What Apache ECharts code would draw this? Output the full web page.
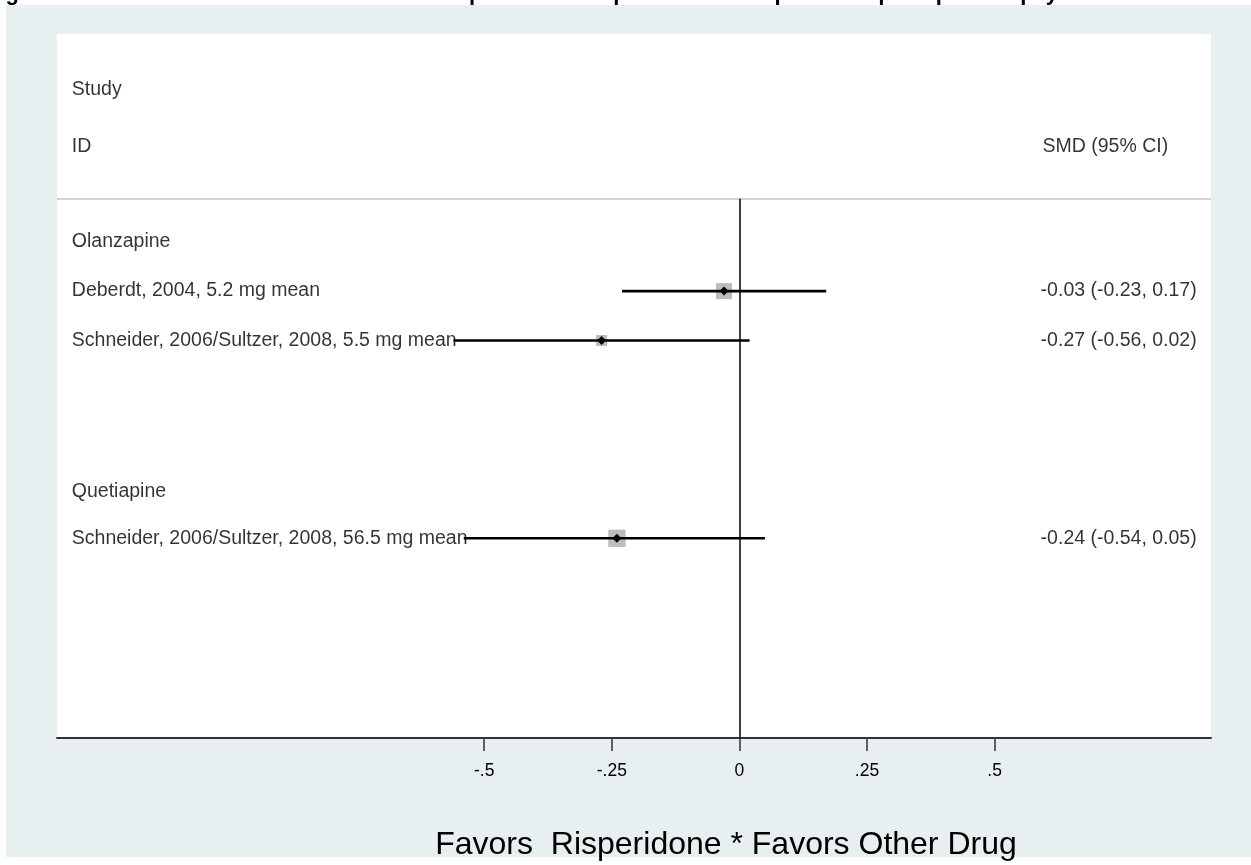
<!DOCTYPE html>
<html><head><meta charset="utf-8">
<script src="https://cdn.jsdelivr.net/npm/echarts@6/dist/echarts.min.js"></script>
<style>html,body{margin:0;padding:0;background:#fff}#c{width:1251px;height:865px}</style>
</head><body><div id="c"></div>
<script>
// ---- data ----
const studies = ["Deberdt, 2004, 5.2 mg mean", "Schneider, 2006/Sultzer, 2008, 5.5 mg mean", "Schneider, 2006/Sultzer, 2008, 56.5 mg mean"];
const studyRows = [1, 2, 6];
const smd = [-0.03, -0.27, -0.24];
const ciLow = [-0.23, -0.56, -0.54];
const ciHigh = [0.17, 0.02, 0.05];
const weights = [38, 18, 44];
const ciText = ["-0.03 (-0.23, 0.17)", "-0.27 (-0.56, 0.02)", "-0.24 (-0.54, 0.05)"];
const groups = ["Olanzapine", "Quetiapine"];
const groupRows = [0, 5.05];
const headerLeft = ["Study", "ID"];
const headerRows = [-3.07, -1.93];
const headerRight = ["SMD (95% CI)"];
const headerRightRows = [-1.93];
const separatorRow = -0.87;
const tickValues = [-0.5, -0.25, 0, 0.25, 0.5];
const tickLabels = ["-.5", "-.25", "0", ".25", ".5"];
const xTitle = "Favors  Risperidone * Favors Other Drug";
const figTitle = "Figure 14. Standardized mean difference of risperidone compared to olanzapine and quetiapine on psychosis";

// ---- layout ----
const XMIN = -1.337, XMAX = 0.924, YMIN = -4.2, YMAX = 10.04;
const LEFT_TEXT_X = -1.308, RIGHT_TEXT_X = 0.896, HDR_RIGHT_X = 0.84;
const FONT = "'Liberation Sans', Arial, sans-serif";
const TXT = '#000000';

const chart = echarts.init(document.getElementById('c'), null, {renderer: 'canvas'});

function textSeries(name, xs, ys, labels, align) {
  return {
    name, type: 'scatter', symbolSize: 0, silent: true, z: 3,
    data: labels.map((t, i) => ({value: [xs, ys[i]], label: {formatter: t}})),
    label: {
      show: true, position: align === 'left' ? 'right' : 'left', distance: 0,
      color: TXT, fontSize: 19.5, fontFamily: FONT
    }
  };
}

const option = {
  backgroundColor: '#E7EFF1',
  animation: false,
  grid: {left: 57, right: 40, top: 34, bottom: 127, show: true, backgroundColor: '#ffffff', borderWidth: 0},
  xAxis: {
    type: 'value', min: XMIN, max: XMAX,
    splitLine: {show: false},
    axisLine: {show: true, onZero: false, lineStyle: {color: '#333', width: 2}},
    axisTick: {show: true, customValues: tickValues, length: 13, lineStyle: {color: '#333', width: 1.5}},
    axisLabel: {
      show: true, customValues: tickValues, margin: 24, color: TXT, fontSize: 17.5, fontFamily: FONT,
      formatter: v => { const i = tickValues.findIndex(t => Math.abs(t - v) < 1e-9); return i >= 0 ? tickLabels[i] : ''; }
    }
  },
  yAxis: {type: 'value', min: YMIN, max: YMAX, inverse: true, show: false},
  graphic: [
    {type: 'rect', shape: {x: 0, y: 0, width: 1251, height: 5}, style: {fill: '#fff'}, z: 1},
    {type: 'rect', shape: {x: 0, y: 0, width: 6, height: 865}, style: {fill: '#fff'}, z: 1},
    {type: 'rect', shape: {x: 0, y: 857, width: 1251, height: 8}, style: {fill: '#fff'}, z: 1},
    {type: 'text', x: -14, y: 5, z: 2, style: {text: figTitle, fill: '#000', font: "bold 22px " + FONT, verticalAlign: 'bottom'}},
    {type: 'text', x: 726, y: 845, z: 2, style: {text: xTitle, fill: TXT, font: "32px " + FONT, align: 'center', verticalAlign: 'middle'}}
  ],
  series: [
    textSeries('headers', LEFT_TEXT_X, headerRows, headerLeft, 'left'),
    textSeries('headerRight', HDR_RIGHT_X, headerRightRows, headerRight, 'right'),
    textSeries('groups', LEFT_TEXT_X, groupRows, groups, 'left'),
    textSeries('studies', LEFT_TEXT_X, studyRows, studies, 'left'),
    textSeries('ci', RIGHT_TEXT_X, studyRows, ciText, 'right'),
    {
      name: 'refs', type: 'scatter', symbolSize: 0, silent: true, z: 4, data: [],
      markLine: {
        silent: true, symbol: 'none', animation: false, label: {show: false},
        data: [
          [{coord: [XMIN, separatorRow], lineStyle: {color: '#c4c4c4', width: 1.5, type: 'solid'}}, {coord: [XMAX, separatorRow]}],
          [{coord: [0, separatorRow], lineStyle: {color: '#111', width: 1.6, type: 'solid'}}, {coord: [0, YMAX]}]
        ]
      }
    },
    {
      name: 'forest', type: 'custom', z: 5, silent: true,
      data: studies.map((s, i) => [smd[i], studyRows[i], ciLow[i], ciHigh[i], weights[i]]),
      encode: {x: 0, y: 1},
      renderItem: function (params, api) {
        const p = api.coord([api.value(0), api.value(1)]);
        const lo = api.coord([api.value(2), api.value(1)]);
        const hi = api.coord([api.value(3), api.value(1)]);
        const s = Math.sqrt(api.value(4)) * 2.6;
        const d = 4.5;
        return {
          type: 'group',
          children: [
            {type: 'rect', shape: {x: p[0] - s / 2, y: p[1] - s / 2, width: s, height: s}, style: {fill: '#bdbdbd'}},
            {type: 'line', shape: {x1: lo[0], y1: lo[1], x2: hi[0], y2: hi[1]}, style: {stroke: '#000', lineWidth: 2.6}},
            {type: 'polygon', shape: {points: [[p[0], p[1] - d], [p[0] + d, p[1]], [p[0], p[1] + d], [p[0] - d, p[1]]]}, style: {fill: '#000'}}
          ]
        };
      }
    }
  ]
};
chart.setOption(option);
</script>
</body></html>
